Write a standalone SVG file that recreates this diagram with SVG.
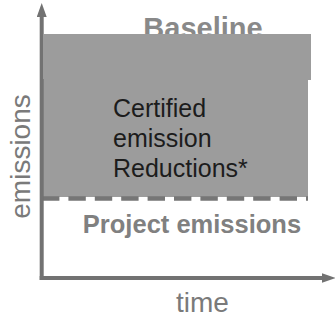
<svg xmlns="http://www.w3.org/2000/svg" width="335" height="320" viewBox="0 0 335 320">
<style>
text{font-family:"Liberation Sans",Arial,sans-serif}
.lbl{fill:#7a7a7a;font-size:28px}
.bold{font-weight:bold}
.region{fill:#9c9c9c}
.axis{stroke:#727272;stroke-width:4;fill:none}
</style>
<defs>
<marker id="ah" viewBox="0 0 14 10" refX="1.5" refY="5" markerWidth="3.5" markerHeight="2.5" markerUnits="strokeWidth" orient="auto">
<path d="M0,0 L14,5 L0,10 z" fill="#727272"/>
</marker>
</defs>
<g id="baseline">
<text x="203" y="38" text-anchor="middle" class="bold" font-size="29" fill="#898989">Baseline</text>
<rect class="region" x="44" y="34" width="267" height="46"/>
</g>
<g id="reductions">
<rect class="region" x="43" y="79" width="265" height="118"/>
<text x="113" y="117" font-size="25" fill="#1c1c1c">Certified</text>
<text x="113" y="147" font-size="25" fill="#1c1c1c">emission</text>
<text x="113" y="177" font-size="25" fill="#1c1c1c">Reductions*</text>
</g>
<g id="project">
<text x="192" y="233" text-anchor="middle" class="bold" font-size="25.5" fill="#808080">Project emissions</text>
</g>
<g id="connectors">
<line x1="42" y1="198.5" x2="308" y2="198.5" stroke="#767676" stroke-width="4.5" stroke-dasharray="17.4 9"/>
<path class="axis" d="M41.7,280 V15.5" marker-end="url(#ah)"/>
<path class="axis" d="M39.7,278 H323" marker-end="url(#ah)"/>
</g>
<g id="axis-labels">
<text class="lbl" x="202.5" y="312" text-anchor="middle" font-size="29">time</text>
<text class="lbl" transform="translate(30,156.5) rotate(-90)" text-anchor="middle">emissions</text>
</g>
</svg>
